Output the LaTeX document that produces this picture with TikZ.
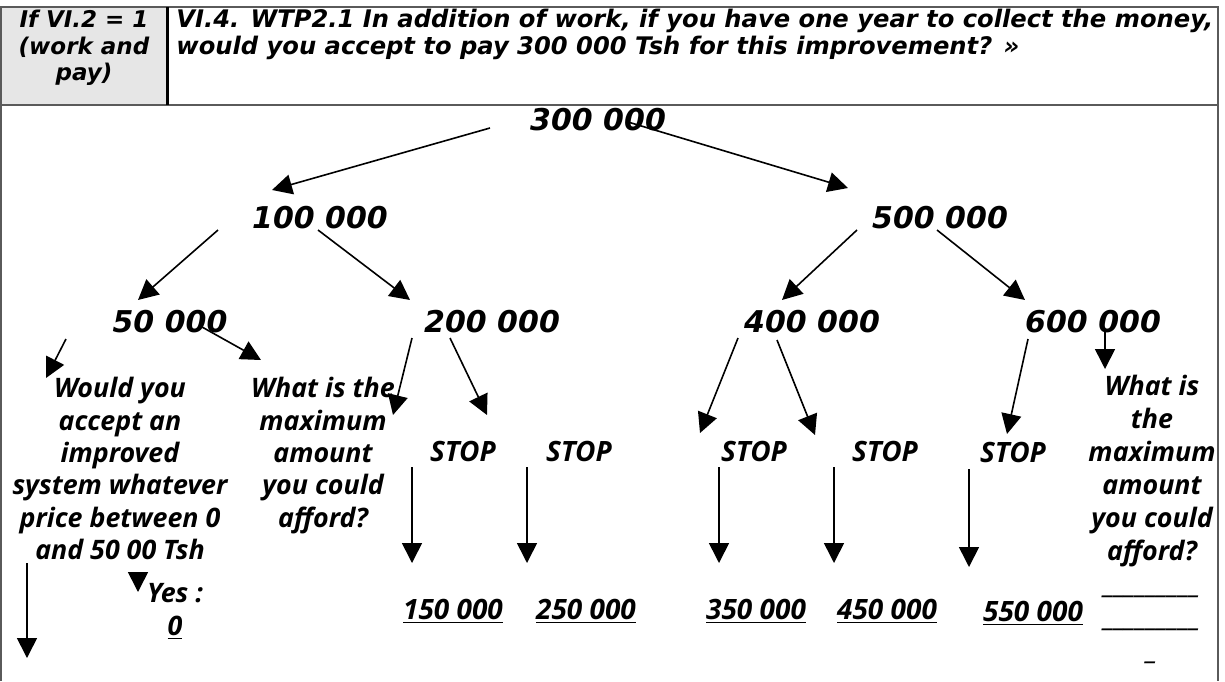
\documentclass[tikz,border=0pt]{standalone}
\usepackage{fontspec}
\setmainfont{Open Sans}
\newfontfamily\verdfont{DejaVu Sans}
\usetikzlibrary{arrows.meta, positioning}
\definecolor{cellfill}{HTML}{E6E6E6}
\definecolor{rulegray}{HTML}{5A5A5A}
\tikzset{
  hdrtxt/.style  = {font=\verdfont\bfseries\itshape\fontsize{11.5}{13.2}\selectfont,
                    inner sep=0pt},
  amt/.style     = {font=\verdfont\bfseries\itshape\fontsize{15}{18}\selectfont,
                    inner sep=0pt},
  qtxt/.style    = {font=\bfseries\itshape\fontsize{13.4}{16.2}\selectfont,
                    align=center, inner sep=0pt, anchor=north},
  stoptxt/.style = {font=\bfseries\itshape\fontsize{14}{17}\selectfont,
                    inner sep=0pt},
  valtxt/.style  = {stoptxt},
  tip/.style     = {line width=0.8pt, -{Triangle[length=10pt, width=10pt]}},
  frame/.style   = {draw=rulegray, line width=1pt},
}
\begin{document}
\begin{tikzpicture}[x=0.5pt, y=-0.5pt]
  \useasboundingbox (0,0) rectangle (1225,681);

  % table frame
  \fill[cellfill] (1,7) rectangle (167,105);
  \draw[frame] (1,681) -- (1,7) -- (1218,7) -- (1218,681);
  \draw[frame] (1,105) -- (1218,105);
  \draw[line width=1.5pt] (167,7) -- (167,105);

  \node[hdrtxt, align=center, anchor=north] (cond) at (84,10) {If VI.2 = 1\\(work and\\pay)};
  \node[hdrtxt, font=\verdfont\bfseries\itshape\fontsize{12.1}{13.2}\selectfont,
        align=left, anchor=north west] (quest) at (176,9)
       {VI.4. WTP2.1 In addition of work, if you have one year to collect the money,\\
        would you accept to pay 300 000 Tsh for this improvement? »};

  % bid tree
  \node[amt] (r300) at (598,120) {300 000};
  \node[amt] (r100) at (320,218) {100 000};
  \node[amt] (r500) at (940,218) {500 000};
  \node[amt] (r50)  at (170,322) {50 000};
  \node[amt] (r200) at (492,322) {200 000};
  \node[amt] (r400) at (812,322) {400 000};
  \node[amt] (r600) at (1093,322) {600 000};

  \node[qtxt] (qacc) at (120,377)
       {Would you\\accept an\\improved\\system whatever\\price between 0\\and 50 00 Tsh};
  \node[qtxt] (qmaxl) at (323,377) {What is the\\maximum\\amount\\you could\\afford?};
  \node[qtxt, font=\bfseries\itshape\fontsize{13.4}{16.5}\selectfont] (qmaxr) at (1152,375)
       {What is\\the\\maximum\\amount\\you could\\afford?\\
        \_\_\_\_\_\_\_\_\_\\\_\_\_\_\_\_\_\_\_\\\_};

  \node[stoptxt] (s1) at (463,451) {STOP};
  \node[stoptxt] (s2) at (579,451) {STOP};
  \node[stoptxt] (s3) at (754,451) {STOP};
  \node[stoptxt] (s4) at (885,451) {STOP};
  \node[stoptxt] (s5) at (1013,452) {STOP};

  \node[valtxt] (v150) at (453,611) {\underline{150 000}};
  \node[valtxt] (v250) at (586,611) {\underline{250 000}};
  \node[valtxt] (v350) at (756,611) {\underline{350 000}};
  \node[valtxt] (v450) at (887,611) {\underline{450 000}};
  \node[valtxt] (v550) at (1033,613) {\underline{550 000}};

  \node[qtxt, font=\bfseries\itshape\fontsize{13.4}{16.5}\selectfont] (yes) at (175,583)
       {Yes :\\\underline{0}};
  \coordinate (noend) at (27,658);

  % arrows
  \draw[tip] ([shift={(-108,8)}]r300.center) -- ([shift={(-48,-28)}]r100.center);
  \draw[tip] ([shift={(30,2)}]r300.center)   -- ([shift={(-92,-30)}]r500.center);
  \draw[tip] ([shift={(-102,12)}]r100.center) -- ([shift={(-32,-22)}]r50.center);
  \draw[tip] ([shift={(-2,12)}]r100.center)   -- ([shift={(-82,-22)}]r200.center);
  \draw[tip] ([shift={(-83,12)}]r500.center)  -- ([shift={(-30,-22)}]r400.center);
  \draw[tip] ([shift={(-3,12)}]r500.center)   -- ([shift={(-68,-22)}]r600.center);

  \draw[tip] ([shift={(-104,17)}]r50.center) -- ([shift={(-74,1)}]qacc.north);
  \draw[tip] ([shift={(32,5)}]r50.center)    -- ([shift={(-62,-17)}]qmaxl.north);
  \draw[tip] ([shift={(-80,16)}]r200.center) -- ([shift={(-70,-36)}]s1.center);
  \draw[tip] ([shift={(-42,16)}]r200.center) -- ([shift={(24,-36)}]s1.center);
  \draw[tip] ([shift={(-74,16)}]r400.center) -- ([shift={(-54,-18)}]s3.center);
  \draw[tip] ([shift={(-35,18)}]r400.center) -- ([shift={(-70,-16)}]s4.center);
  \draw[tip] ([shift={(-65,17)}]r600.center) -- ([shift={(-6,-18)}]s5.center);
  \draw[tip] ([shift={(12,8)}]r600.center)   -- ([shift={(-47,-6)}]qmaxr.north);

  \draw[tip] ([shift={(-51,16)}]s1.center) -- ([shift={(-41,-48)}]v150.center);
  \draw[tip] ([shift={(-52,16)}]s2.center) -- ([shift={(-59,-48)}]v250.center);
  \draw[tip] ([shift={(-35,16)}]s3.center) -- ([shift={(-37,-48)}]v350.center);
  \draw[tip] ([shift={(-51,16)}]s4.center) -- ([shift={(-53,-48)}]v450.center);
  \draw[tip] ([shift={(-44,17)}]s5.center) -- ([shift={(-64,-46)}]v550.center);

  \draw[tip] ([shift={(18,196)}]qacc.north) -- ([shift={(-37,9)}]yes.north);
  \draw[tip] ([shift={(-93,186)}]qacc.north) -- (noend);
\end{tikzpicture}
\end{document}
